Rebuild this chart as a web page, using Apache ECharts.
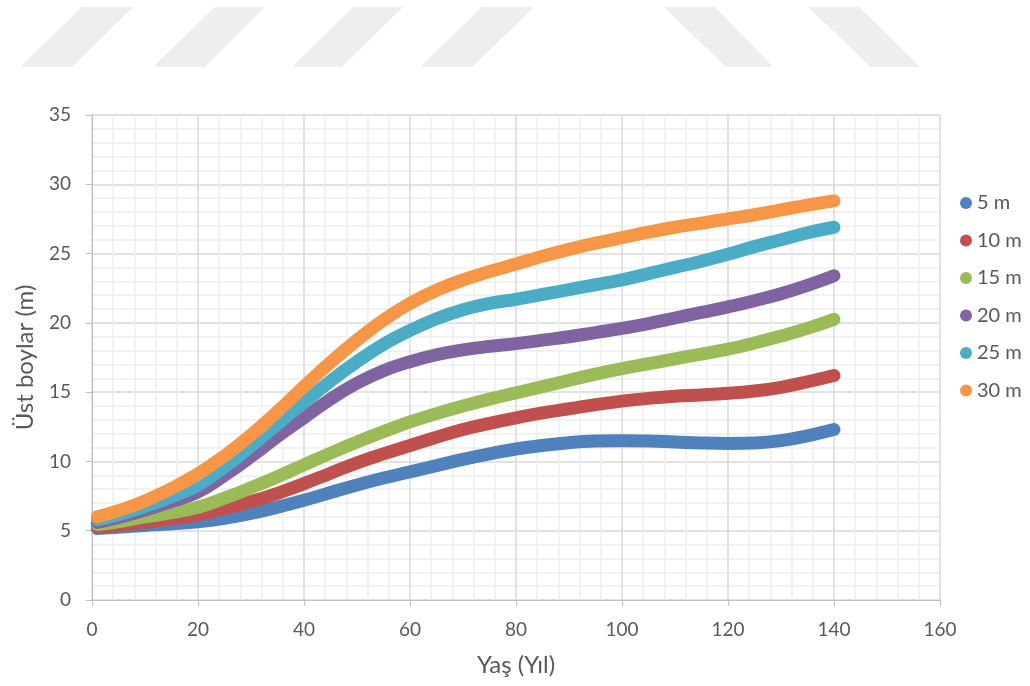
<!DOCTYPE html>
<html>
<head>
<meta charset="utf-8">
<script src="https://cdn.jsdelivr.net/npm/echarts@6/dist/echarts.min.js"></script>
<style>
html,body{margin:0;padding:0;background:#fff;}
#chart{width:1030px;height:686px;}
</style>
</head>
<body>
<div id="chart"></div>
<script>
// Ages (years) at which values were read
const ages = [1,5,10,15,20,25,30,35,40,45,50,55,60,65,70,75,80,85,90,95,100,105,110,115,120,125,130,135,140];
const seriesNames = ['5 m','10 m','15 m','20 m','25 m','30 m'];
const h5  = [5.15,5.25,5.38,5.5,5.65,5.9,6.25,6.7,7.2,7.75,8.3,8.8,9.25,9.7,10.15,10.55,10.9,11.15,11.35,11.47,11.5,11.47,11.4,11.33,11.3,11.33,11.5,11.85,12.3];
const h10 = [5.25,5.38,5.6,5.85,6.15,6.6,7.1,7.7,8.4,9.15,9.9,10.55,11.15,11.75,12.3,12.75,13.15,13.5,13.8,14.1,14.35,14.55,14.7,14.8,14.92,15.08,15.35,15.75,16.2];
const h15 = [5.45,5.65,6.0,6.3,6.7,7.35,8.1,8.9,9.75,10.6,11.4,12.15,12.85,13.45,14.0,14.5,14.95,15.4,15.85,16.3,16.7,17.05,17.4,17.75,18.1,18.55,19.05,19.6,20.25];
const h20 = [5.6,5.95,6.5,7.1,7.8,9.0,10.35,11.8,13.15,14.5,15.65,16.55,17.2,17.7,18.05,18.3,18.5,18.75,19.0,19.3,19.6,19.95,20.35,20.75,21.15,21.6,22.1,22.7,23.4];
const h25 = [5.8,6.15,6.75,7.45,8.3,9.6,11.1,12.7,14.25,15.8,17.2,18.45,19.45,20.3,20.95,21.4,21.7,22.05,22.4,22.75,23.1,23.55,24.0,24.45,24.95,25.5,26.0,26.5,26.9];
const h30 = [6.0,6.45,7.15,8.05,9.1,10.4,11.9,13.6,15.4,17.15,18.75,20.2,21.4,22.35,23.1,23.7,24.25,24.8,25.3,25.75,26.15,26.55,26.9,27.2,27.5,27.8,28.15,28.5,28.8];
const xTicks = [0,20,40,60,80,100,120,140,160];
const yTicks = [0,5,10,15,20,25,30,35];
const colors = ['#4f81bd','#c0504d','#9bbb59','#8064a2','#4bacc6','#f79646'];
const allValues = [h5,h10,h15,h20,h25,h30];

const chart = echarts.init(document.getElementById('chart'), null, {renderer:'canvas'});
const FONT = 'Lato, "Open Sans", sans-serif';
const TXT = '#595959';

function stripes(){
  const shapes = [
    [[82,7],[133,7],[72,67],[20,67]],
    [[215,7],[265,7],[205,67],[153,67]],
    [[353,7],[403,7],[342,67],[292,67]],
    [[482,7],[534,7],[472,67],[420,67]],
    [[664,7],[715,7],[773,67],[726,67]],
    [[808,7],[859,7],[920,67],[871,67]]
  ];
  return shapes.map(p => ({type:'polygon', shape:{points:p}, style:{fill:'#eeeeee'}, silent:true, z:-1}));
}

const series = seriesNames.map((n,i) => ({
  name:n,
  type:'line',
  data: ages.map((a,k) => [a, allValues[i][k]]),
  smooth:0.45,
  showSymbol:false,
  symbol:'circle',
  symbolSize:13,
  itemStyle:{color:colors[i]},
  lineStyle:{width:13, color:colors[i], cap:'round', join:'round'},
  z:2+i
}));

chart.setOption({
  animation:false,
  backgroundColor:'#ffffff',
  graphic: stripes(),
  grid:{left:92, right:90, top:115, bottom:86, containLabel:false},
  legend:{
    orient:'vertical',
    left:955, top:188,
    icon:'circle',
    itemWidth:12, itemHeight:12,
    itemGap:17.5,
    textStyle:{fontFamily:FONT, fontSize:20, color:TXT, lineHeight:20},
    data:seriesNames
  },
  xAxis:{
    type:'value', min:0, max:160, interval:20,
    name:'Yaş (Yıl)', nameLocation:'middle', nameGap:53,
    nameTextStyle:{fontFamily:FONT, fontSize:24, color:TXT},
    axisLine:{show:true, lineStyle:{color:'#bfbfbf', width:1}},
    axisTick:{show:true, length:6, lineStyle:{color:'#bfbfbf'}},
    axisLabel:{fontFamily:FONT, fontSize:19, color:TXT, margin:20,
      formatter: v => xTicks.includes(v) ? String(v) : ''},
    splitLine:{show:true, lineStyle:{color:'#d9d9d9', width:1.5}},
    minorTick:{show:false, splitNumber:5},
    minorSplitLine:{show:true, lineStyle:{color:'#eeeeee', width:1.5}}
  },
  yAxis:{
    type:'value', min:0, max:35, interval:5,
    name:'Üst boylar (m)', nameLocation:'middle', nameGap:55, nameRotate:90,
    nameTextStyle:{fontFamily:FONT, fontSize:24, color:TXT},
    axisLine:{show:true, lineStyle:{color:'#bfbfbf', width:1}},
    axisTick:{show:true, length:6, lineStyle:{color:'#bfbfbf'}},
    axisLabel:{fontFamily:FONT, fontSize:19, color:TXT, margin:21,
      formatter: v => yTicks.includes(v) ? String(v) : ''},
    splitLine:{show:true, lineStyle:{color:'#d9d9d9', width:1.5}},
    minorTick:{show:false, splitNumber:5},
    minorSplitLine:{show:true, lineStyle:{color:'#eeeeee', width:1.5}}
  },
  series: series
});
</script>
</body>
</html>
